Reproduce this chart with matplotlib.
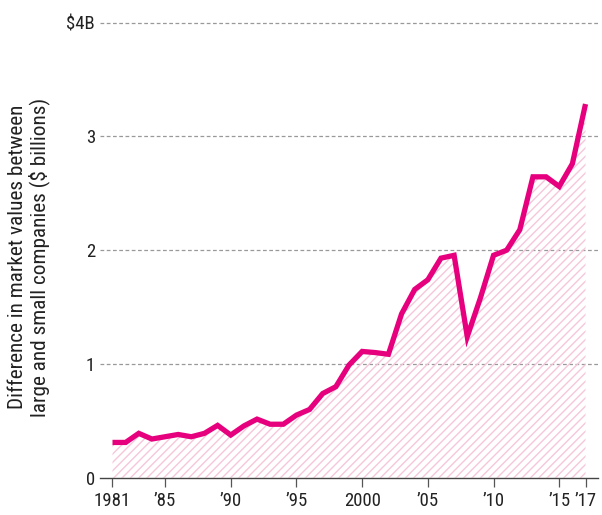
import matplotlib
matplotlib.use("Agg")
import matplotlib.pyplot as plt

years = list(range(1981, 2018))
values = [0.31, 0.31, 0.39, 0.34, 0.36, 0.38, 0.36, 0.39, 0.46, 0.375,
          0.455, 0.515, 0.47, 0.47, 0.55, 0.60, 0.74, 0.80, 0.99, 1.11,
          1.10, 1.085, 1.44, 1.655, 1.74, 1.93, 1.955, 1.24, 1.58, 1.955,
          2.0, 2.18, 2.645, 2.645, 2.56, 2.76, 3.285]
xtick_pos = [1981, 1985, 1990, 1995, 2000, 2005, 2010, 2015, 2017]
xtick_labels = ["1981", "\u201985", "\u201990", "\u201995", "2000", "\u201905", "\u201910", "\u201915", "\u201917"]
ytick_pos = [0, 1, 2, 3, 4]
ytick_labels = ["0", "1", "2", "3", "$4B"]
ylabel = "Difference in market values between\nlarge and small companies ($ billions)"

plt.rcParams['font.family'] = ['Roboto Condensed', 'DejaVu Sans']
plt.rcParams['hatch.color'] = '#f6c6da'
plt.rcParams['hatch.linewidth'] = 1.0

line_color = '#e6007e'
text_color = '#222222'

fig = plt.figure(figsize=(6.02, 5.15), dpi=100)
ax = fig.add_axes([100/602, (515-477.7)/515, 498/602, (477.7-17)/515])

ax.fill_between(years, values, 0, facecolor='none', edgecolor='#f6c6da',
                hatch='////', linewidth=0, zorder=1)
ax.plot(years, values, color=line_color, lw=3.8, solid_joinstyle='miter',
        solid_capstyle='butt', zorder=3)

ax.set_xlim(1980.05, 2017.95)
ax.set_ylim(0, 4.05)

for y in [1, 2, 3, 4]:
    ax.axhline(y, color='#999999', lw=0.9, ls=(0, (3, 2)), zorder=0)

ax.set_yticks(ytick_pos)
ax.set_yticklabels(ytick_labels, fontsize=13.5, color=text_color)
ax.tick_params(axis='y', length=0, pad=3.5)
ax.set_xticks(xtick_pos)
ax.set_xticklabels(xtick_labels, fontsize=13.5, color=text_color)
ax.tick_params(axis='x', length=6.5, width=0.9, color='#555555', pad=3.5)

for s in ['top', 'right', 'left']:
    ax.spines[s].set_visible(False)
ax.spines['bottom'].set_color('#444444')
ax.spines['bottom'].set_linewidth(1.0)

fig.text(29/602, (515-257)/515, ylabel, rotation=90, ha='center', va='center',
         fontsize=15.3, color=text_color, linespacing=1.08,
         multialignment='center')

fig.savefig("out.png", dpi=100)
